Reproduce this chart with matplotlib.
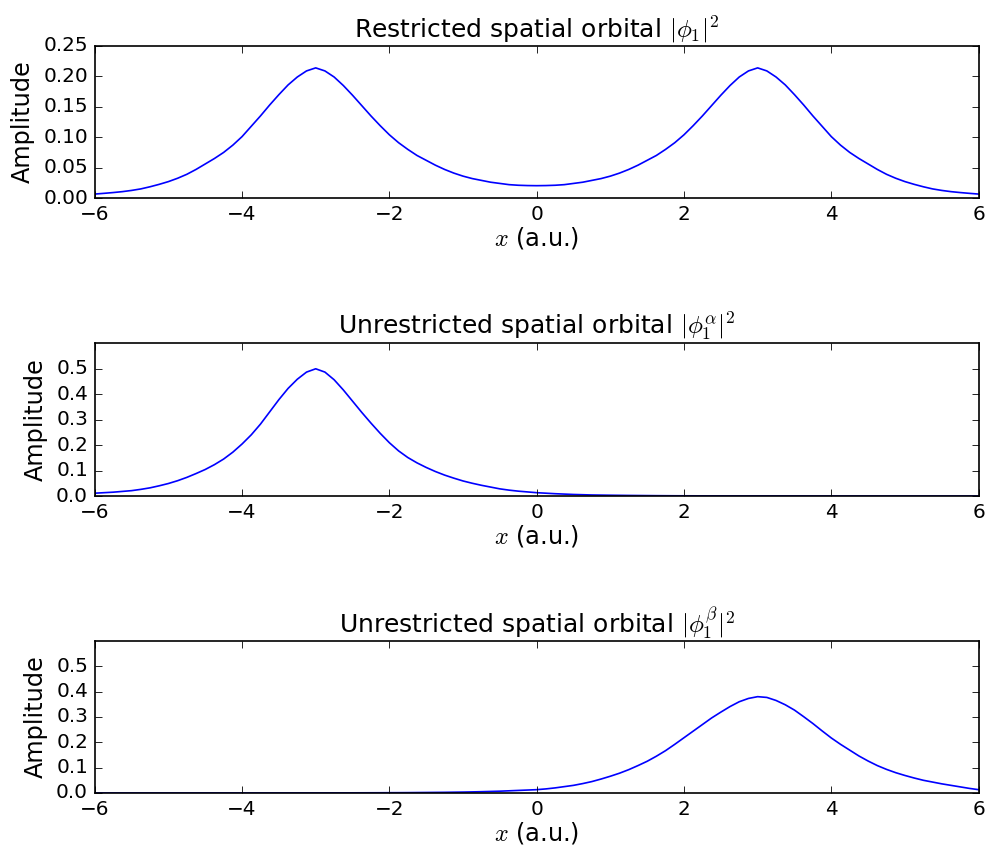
import matplotlib
matplotlib.use('Agg')
import numpy as np
import matplotlib.pyplot as plt

plt.style.use('classic')
plt.rcParams['font.size'] = 12
plt.rcParams['axes.titlesize'] = 15
plt.rcParams['axes.labelsize'] = 14.4

# sample grid, -6 .. 6 a.u. in steps of 0.125
x = np.linspace(-6, 6, 97)

# restricted |phi_1|^2
restricted = [
    0.0065, 0.0077, 0.009, 0.0105, 0.0125, 0.015, 0.0185, 0.0225,
    0.027, 0.0325, 0.039, 0.047, 0.056, 0.065, 0.075, 0.087,
    0.101, 0.118, 0.135, 0.153, 0.170, 0.186, 0.199, 0.209,
    0.214, 0.209, 0.199, 0.185, 0.169, 0.152, 0.135, 0.119,
    0.104, 0.091, 0.080, 0.070, 0.062, 0.054, 0.047, 0.041,
    0.036, 0.032, 0.029, 0.026, 0.024, 0.022, 0.021, 0.0205,
    0.0203,
    0.0205, 0.021, 0.022, 0.024, 0.026, 0.029, 0.032, 0.036,
    0.041, 0.047, 0.054, 0.062, 0.070, 0.080, 0.091, 0.104,
    0.119, 0.135, 0.152, 0.169, 0.185, 0.199, 0.209, 0.214,
    0.209, 0.199, 0.186, 0.170, 0.153, 0.135, 0.118, 0.101,
    0.087, 0.075, 0.065, 0.056, 0.047, 0.039, 0.0325, 0.027,
    0.0225, 0.0185, 0.015, 0.0125, 0.0105, 0.009, 0.0077, 0.0065,
]

# unrestricted alpha |phi_1^a|^2
alpha = [
    0.011, 0.013, 0.015, 0.018, 0.021, 0.026, 0.032, 0.040,
    0.049, 0.060, 0.073, 0.088, 0.104, 0.123, 0.145, 0.172,
    0.204, 0.240, 0.282, 0.330, 0.378, 0.422, 0.458, 0.486,
    0.499, 0.486, 0.456, 0.416, 0.372, 0.328, 0.286, 0.246,
    0.209, 0.177, 0.151, 0.130, 0.112, 0.096, 0.082, 0.070,
    0.059, 0.050, 0.042, 0.035, 0.028, 0.023, 0.019, 0.016,
    0.013,
    0.011, 0.009, 0.0075, 0.006, 0.005, 0.004, 0.0035, 0.003,
    0.0026, 0.0022, 0.0019, 0.0016, 0.0013, 0.0011, 0.0009, 0.0008,
    0.0007, 0.0006, 0.0005, 0.0005, 0.0004, 0.0004, 0.0003, 0.0003,
    0.0003, 0.0002, 0.0002, 0.0002, 0.0002, 0.0001, 0.0001, 0.0001,
    0.0001, 0.0001, 0.0001, 0.0001, 0.0, 0.0, 0.0, 0.0,
    0.0, 0.0, 0.0, 0.0, 0.0, 0.0, 0.0, 0.0,
]

# unrestricted beta |phi_1^b|^2
beta = [
    0.0, 0.0, 0.0, 0.0, 0.0, 0.0, 0.0, 0.0,
    0.0, 0.0, 0.0, 0.0, 0.0001, 0.0001, 0.0001, 0.0001,
    0.0001, 0.0001, 0.0001, 0.0001, 0.0001, 0.0002, 0.0002, 0.0003,
    0.0003, 0.0003, 0.0004, 0.0004, 0.0005, 0.0006, 0.0007, 0.0008,
    0.001, 0.0011, 0.0013, 0.0016, 0.0019, 0.0022, 0.0025, 0.003,
    0.0035, 0.0042, 0.005, 0.006, 0.007, 0.0085, 0.010, 0.0115,
    0.013,
    0.016, 0.020, 0.025, 0.030, 0.037, 0.045, 0.055, 0.066,
    0.078, 0.092, 0.108, 0.125, 0.145, 0.167, 0.192, 0.218,
    0.244, 0.270, 0.296, 0.319, 0.341, 0.360, 0.373, 0.380,
    0.377, 0.365, 0.348, 0.327, 0.301, 0.274, 0.245, 0.217,
    0.192, 0.169, 0.146, 0.126, 0.108, 0.093, 0.080, 0.069,
    0.059, 0.050, 0.043, 0.036, 0.030, 0.024, 0.018, 0.013,
]

titles = [r'Restricted spatial orbital $|\phi_1|^2$',
          r'Unrestricted spatial orbital $|\phi_1^\alpha|^2$',
          r'Unrestricted spatial orbital $|\phi_1^\beta|^2$']
xticks = [-6, -4, -2, 0, 2, 4, 6]

fig = plt.figure(figsize=(989 / 120, 847 / 120), facecolor='white')

left, width = 0.0958, 0.8937
boxes = [[left, 0.7662, width, 0.1795],
         [left, 0.4144, width, 0.1806],
         [left, 0.0638, width, 0.1795]]

for box, y, title in zip(boxes, [restricted, alpha, beta], titles):
    ax = fig.add_axes(box)
    ax.plot(x, y, 'b-', lw=1.0)
    ax.set_xlim(-6, 6)
    ax.set_xticks(xticks)
    ax.set_xlabel(r'$x$ (a.u.)', labelpad=1)
    ax.set_ylabel('Amplitude')
    ax.set_title(title)
    if y is restricted:
        ax.set_ylim(0, 0.25)
        ax.set_yticks([0.0, 0.05, 0.10, 0.15, 0.20, 0.25])
        ax.set_yticklabels(['0.00', '0.05', '0.10', '0.15', '0.20', '0.25'])
    else:
        ax.set_ylim(0, 0.6)
        ax.set_yticks([0.0, 0.1, 0.2, 0.3, 0.4, 0.5])

fig.savefig('out.png', dpi=120, facecolor='white')
